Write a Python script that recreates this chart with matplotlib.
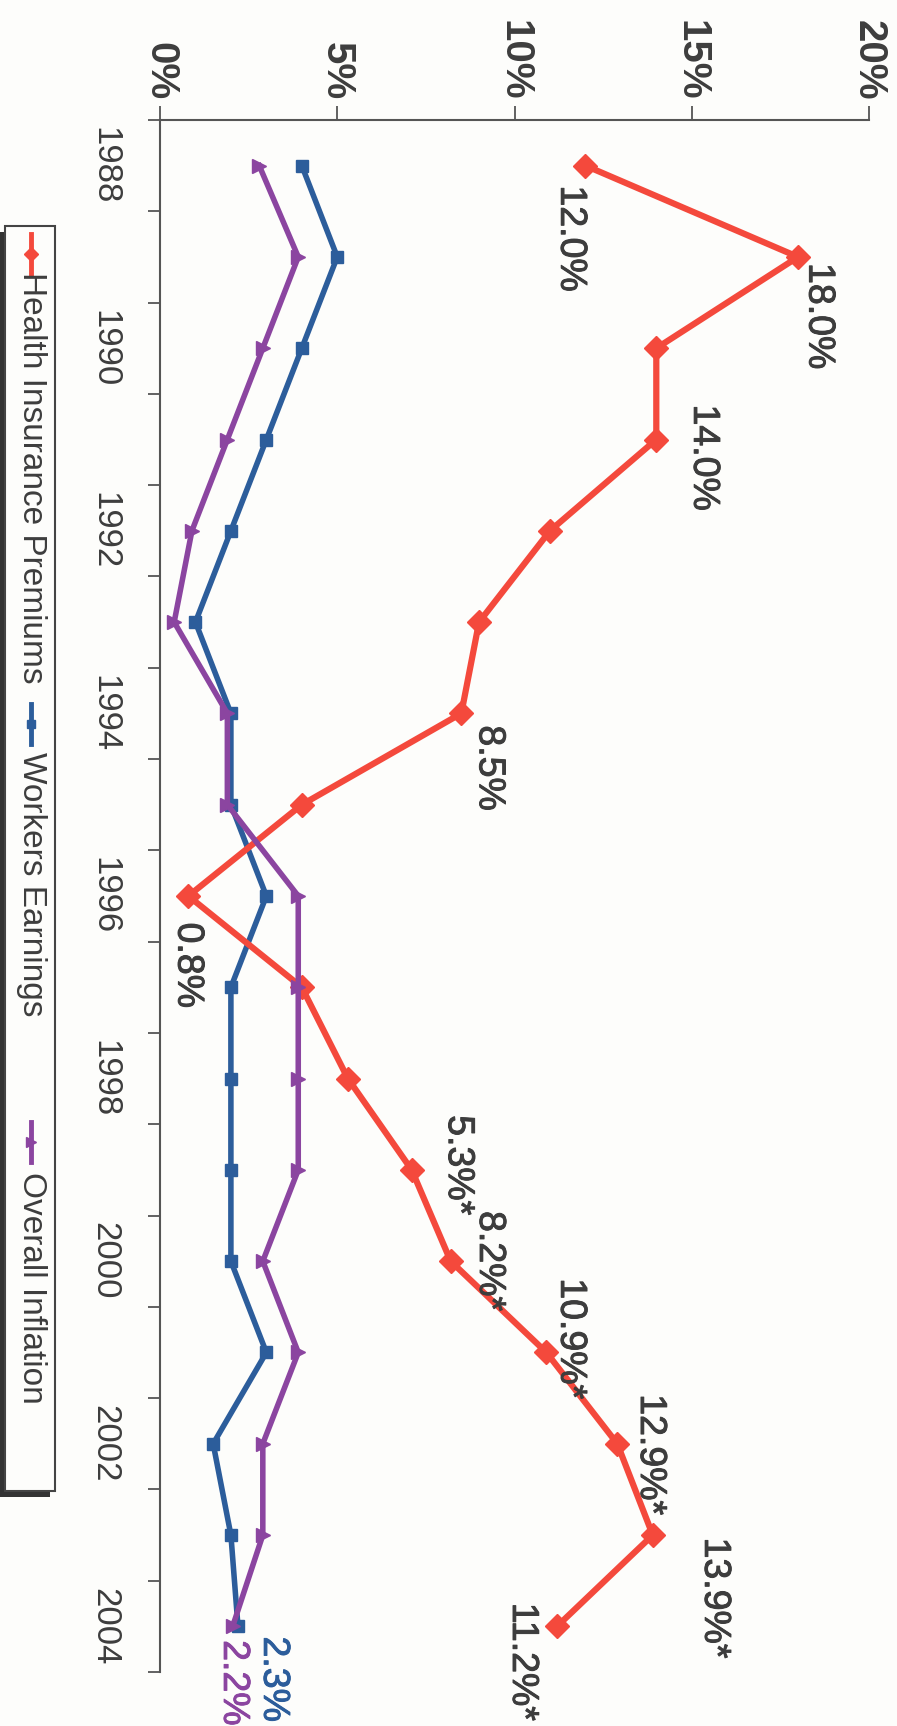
import matplotlib
matplotlib.use("Agg")
import matplotlib.pyplot as plt
import matplotlib.patheffects as pe
from matplotlib.lines import Line2D
from matplotlib.patches import Rectangle

# ----
# DATA
# ----
years = list(range(1988, 2005))
health = [12.0, 18.0, 14.0, 14.0, 11.0, 9.0, 8.5, 4.0, 0.8, 4.0, 5.3, 7.1, 8.2, 10.9, 12.9, 13.9, 11.2]
workers = [4.0, 5.0, 4.0, 3.0, 2.0, 1.0, 2.0, 2.0, 3.0, 2.0, 2.0, 2.0, 2.0, 3.0, 1.5, 2.0, 2.2]
inflation = [2.8, 3.9, 2.9, 1.9, 0.9, 0.4, 1.9, 1.9, 3.9, 3.9, 3.9, 3.9, 2.9, 3.9, 2.9, 2.9, 2.05]
series_names = ["Health Insurance Premiums", "Workers Earnings", "Overall Inflation"]

pct_ticks = [0, 5, 10, 15, 20]
pct_labels = ["0%", "5%", "10%", "15%", "20%"]
year_labels = [1988, 1990, 1992, 1994, 1996, 1998, 2000, 2002, 2004]

# data labels: (text, x in %, y in year units)
health_notes = [("12.0%", 11.6, 1988.8), ("18.0%", 18.6, 1989.65), ("14.0%", 15.35, 1991.2),
                ("8.5%", 9.3, 1994.6), ("0.8%", 0.8, 1996.76), ("5.3%*", 8.43, 1998.95),
                ("8.2%*", 9.31, 2000.0), ("10.9%*", 11.6, 2000.85), ("12.9%*", 13.85, 2002.12),
                ("13.9%*", 15.66, 2003.69), ("11.2%*", 10.24, 2004.39)]
end_notes = [("2.3%", 3.22, 2004.58), ("2.2%", 2.09, 2004.62)]

# ------
# STYLE
# ------
W, H = 897, 1726
red = "#f4493c"
blue = "#2c5d9b"
purple = "#8b45a0"
txt = "#3d3d3d"
bg = "#fdfdfb"
plt.rcParams["font.family"] = ["Liberation Sans", "DejaVu Sans"]
thick = [pe.withStroke(linewidth=0.7, foreground=txt)]

def fx(px):
    return px / W

def fy(py):
    return 1 - py / H

fig = plt.figure(figsize=(W / 100, H / 100), dpi=100)
fig.patch.set_facecolor(bg)
ax = fig.add_axes([fx(160), fy(1672), (869 - 160) / W, (1672 - 120) / H])
ax.set_facecolor(bg)

# ----
# Plot
# ----
ax.plot(workers, years, color=blue, lw=4, marker="s", ms=8, zorder=3)
ax.plot(health, years, color=red, lw=4.5, marker="D", ms=12.5, zorder=4)
ax.plot(inflation, years, color=purple, lw=4, marker=">", ms=10, zorder=5)

ax.set_xlim(0, 20)
ax.set_ylim(2004.5, 1987.5)

for s in ["right", "bottom"]:
    ax.spines[s].set_visible(False)
for s in ["left", "top"]:
    ax.spines[s].set_color("#555555")
    ax.spines[s].set_linewidth(1.5)

ax.xaxis.tick_top()
ax.set_xticks(pct_ticks)
ax.set_xticklabels(pct_labels, rotation=270, fontsize=29, fontweight="bold", color=txt)
ax.tick_params(axis="x", direction="out", length=10, width=1.3, color="#555555", pad=4)

ax.set_yticks(year_labels)
ax.set_yticklabels([str(y) for y in year_labels], rotation=270, fontsize=25, color=txt,
                   va="center")
ax.set_yticks([y - 0.5 for y in years] + [2004.5], minor=True)
ax.tick_params(axis="y", which="major", length=0, pad=28)
ax.tick_params(axis="y", which="minor", direction="out", length=9, width=1.3, color="#555555")

for s, x, y in health_notes:
    ax.text(x, y, s, rotation=270, ha="center", va="center", fontsize=27,
            color=txt, path_effects=thick, zorder=6)
for (s, x, y), c in zip(end_notes, [blue, purple]):
    ax.text(x, y, s, rotation=270, ha="center", va="center", fontsize=27, color=c,
            path_effects=[pe.withStroke(linewidth=0.7, foreground=c)], zorder=6)

# ------
# Legend (drawn rotated by hand)
# ------
fig.add_artist(Rectangle((fx(0), fy(1497)), fx(50), (1497 - 232) / H,
                         transform=fig.transFigure, facecolor="#333333", edgecolor="none"))
fig.add_artist(Rectangle((fx(5), fy(1491)), fx(50), (1491 - 226) / H,
                         transform=fig.transFigure, facecolor=bg, edgecolor="#444444", lw=1.5))

entries = [(red, "D", 7, 234, 272), (blue, "s", 6, 704, 752), (purple, ">", 7, 1122, 1172)]
for (c, m, ms, y0, yt), name in zip(entries, series_names):
    fig.add_artist(Line2D([fx(31), fx(31)], [fy(y0), fy(y0 + 40)], transform=fig.transFigure,
                          color=c, lw=3.5, marker="none"))
    fig.add_artist(Line2D([fx(31)], [fy(y0 + 20)], transform=fig.transFigure,
                          color=c, marker=m, ms=ms, lw=0))
    fig.text(fx(31), fy(yt), name, rotation=270, ha="center", va="top", fontsize=24, color=txt)

fig.savefig("out.png", dpi=100, facecolor=bg)
